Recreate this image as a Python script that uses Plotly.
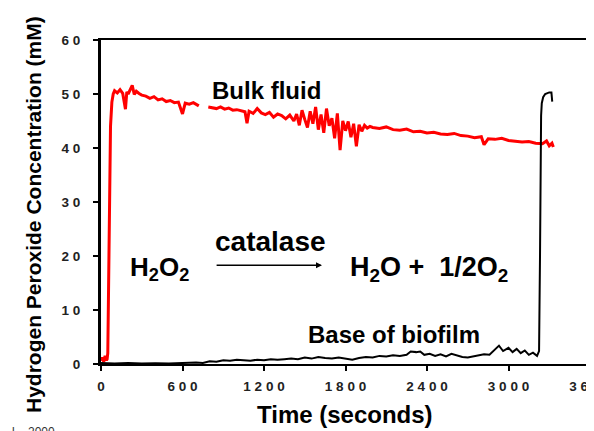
import plotly.graph_objects as go

# ---------------- data ----------------
bulk_t = [0, 10, 20, 30, 40, 45, 50, 55, 60, 65, 70, 80, 90, 100, 120, 140, 160, 180, 190, 200,
          215, 230, 245, 260, 280, 300, 330, 360, 390, 420, 450, 480, 510, 540, 570, 600, 620, 650,
          680, 710, 720, 750, 790, 820, 850, 880, 910, 940, 970, 1000, 1030, 1060, 1075, 1090, 1120,
          1150, 1180, 1210, 1240, 1270, 1300, 1330, 1360, 1390, 1420, 1440, 1460, 1480, 1500, 1520,
          1540, 1560, 1580, 1600, 1620, 1640, 1660, 1680, 1700, 1720, 1740, 1760, 1780, 1800, 1820,
          1840, 1860, 1880, 1900, 1920, 1940, 1960, 1980, 2000, 2050, 2100, 2150, 2200, 2250, 2300,
          2350, 2400, 2450, 2500, 2550, 2600, 2650, 2700, 2750, 2800, 2820, 2850, 2900, 2950, 3000,
          3050, 3100, 3150, 3200, 3250, 3280, 3300, 3320, 3330]
bulk_v = [0.6, 1.2, 0.4, 1.5, 0.7, 0.9, 2, 12, 30, 38, 44, 48.5, 50, 50.6, 50.2, 50.8, 50.1, 47.2, 50.4, 50.0,
          50.9, 51.6, 49.9, 50.5, 50.1, 49.8, 49.6, 49.2, 49.5, 48.9, 49.1, 48.6, 48.8, 48.4, 48.5, 46.3, 48.3, 48.1,
          48.4, 48.0, 47.8, None, 47.6, 47.5, 47.3, 47.6, 47.2, 47.4, 47.0, 47.1, 46.9, 46.7, 44.6, 46.8, 46.4,
          47.3, 46.5, 46.2, 46.6, 45.7, 46.3, 46.0, 45.4, 46.1, 45.0, 46.3, 44.2, 47.0, 45.3, 43.8,
          46.8, 44.5, 47.6, 43.4, 46.2, 42.8, 47.3, 44.1, 45.5, 41.8, 46.4, 39.6, 45.0, 43.2, 44.9,
          42.0, 44.5, 40.3, 44.3, 43.1, 44.2, 43.7, 44.0, 43.8, 43.6, 43.9, 43.4, 43.3, 43.5, 43.0,
          43.1, 42.8, 42.9, 42.6, 42.5, 42.7, 42.3, 42.2, 41.9, 42.1, 40.6, 41.7, 41.6, 41.8, 41.4,
          41.3, 41.1, 41.2, 40.9, 40.8, 41.3, 40.4, 40.9, 40.2]

base_t = [0, 100, 200, 300, 400, 500, 600, 700, 750, 800, 850, 900, 950, 1000, 1050, 1100, 1150, 1200,
          1250, 1300, 1350, 1400, 1450, 1500, 1550, 1600, 1650, 1700, 1750, 1800, 1850, 1900, 1950, 2000,
          2050, 2100, 2150, 2200, 2250, 2280, 2320, 2350, 2380, 2420, 2460, 2500, 2540, 2580, 2620, 2660,
          2700, 2740, 2780, 2820, 2860, 2900, 2930, 2960, 3000, 3030, 3060, 3090, 3120, 3150, 3180, 3210,
          3225, 3232, 3236, 3240, 3245, 3255, 3270, 3300, 3316, 3322]
base_v = [0.2, 0.1, 0.2, 0.1, 0.15, 0.1, 0.2, 0.3, 0.2, 0.5, 0.4, 0.7, 0.6, 0.8, 0.7, 0.6, 0.8, 0.7,
          0.9, 0.8, 0.9, 1.0, 0.9, 1.2, 1.0, 1.3, 1.1, 1.0, 1.2, 1.0, 0.8, 1.1, 1.3, 1.2,
          1.5, 1.4, 1.6, 1.5, 1.7, 2.3, 2.2, 2.3, 1.7, 1.9, 1.5, 1.8, 1.4, 1.9, 1.6, 1.3,
          1.2, 1.4, 1.6, 1.8, 1.7, 2.6, 3.4, 2.4, 3.0, 2.2, 2.8, 2.0, 2.5, 1.7, 2.1, 1.5,
          2.4, 20, 38, 46, 48.3, 49.4, 50.0, 50.3, 50.3, 48.6]

x_tickvals = [0, 600, 1200, 1800, 2400, 3000, 3600]
x_ticktext = ["0", "6 0 0", "1 2 0 0", "1 8 0 0", "2 4 0 0", "3 0 0 0", "3 6 0 0"]
y_tickvals = [0, 10, 20, 30, 40, 50, 60]
y_ticktext = ["0", "1 0", "2 0", "3 0", "4 0", "5 0", "6 0"]

FONT = "Liberation Sans, Arial, sans-serif"

fig = go.Figure()
fig.add_trace(go.Scatter(x=bulk_t, y=bulk_v, mode="lines", connectgaps=False,
                         line=dict(color="#ff0000", width=3), showlegend=False))
fig.add_trace(go.Scatter(x=base_t, y=base_v, mode="lines",
                         line=dict(color="#000000", width=2), showlegend=False))

# page has an 8px body margin; figure sized to fit the 594x431 window exactly.
# plot area on screen spans x 101..590, y 40..364
fig.update_layout(
    width=586, height=423,
    margin=dict(l=93, r=4, t=32, b=67),
    paper_bgcolor="white", plot_bgcolor="white",
    font=dict(family=FONT, color="black"),
    xaxis=dict(range=[0, 3600], tickvals=x_tickvals, ticktext=x_ticktext, automargin=False,
               showgrid=False, zeroline=False, showline=True, linecolor="black", linewidth=2,
               mirror=True, ticks="outside", ticklen=5, tickwidth=2, tickcolor="black",
               tickfont=dict(size=13.5, family=FONT, weight="bold", color="#222"),
               ticklabelstandoff=4, ticklabeloverflow="allow"),
    yaxis=dict(range=[0, 60], tickvals=y_tickvals, ticktext=y_ticktext, automargin=False,
               showgrid=False, zeroline=False, showline=True, linecolor="black", linewidth=3,
               ticks="outside", ticklen=5, tickwidth=2, tickcolor="black",
               tickfont=dict(size=13.5, family=FONT, weight="bold", color="#222"),
               ticklabelstandoff=10),
)

ann = []
# axis titles
ann.append(dict(text="Hydrogen Peroxide Concentration (mM)", xref="paper", yref="paper",
                x=(33 - 101) / 489, y=(364 - 215) / 324, textangle=-90, showarrow=False,
                xanchor="center", yanchor="middle",
                font=dict(size=21, family=FONT, weight="bold", color="black")))
ann.append(dict(text="Time (seconds)", xref="paper", yref="paper",
                x=(344.5 - 101) / 489, y=(364 - 414) / 324, showarrow=False,
                xanchor="center", yanchor="middle",
                font=dict(size=24, family=FONT, weight="bold", color="black")))
# series labels
ann.append(dict(text="Bulk fluid", x=1222, y=50.7, showarrow=False, xanchor="center", yanchor="middle",
                font=dict(size=24, family=FONT, weight="bold", color="black")))
ann.append(dict(text="Base of biofilm", x=2157, y=5.4, showarrow=False, xanchor="center", yanchor="middle",
                font=dict(size=24, family=FONT, weight="bold", color="black")))
# equation
ann.append(dict(text="H<sub>2</sub>O<sub>2</sub>", x=434, y=17.6, showarrow=False,
                xanchor="center", yanchor="middle",
                font=dict(size=26, family=FONT, weight="bold", color="black")))
ann.append(dict(text="catalase", x=1245, y=22.6, showarrow=False, xanchor="center", yanchor="middle",
                font=dict(size=28, family=FONT, weight="bold", color="black")))
ann.append(dict(text="", x=1627, y=18.3, ax=840, ay=18.3, axref="x", ayref="y",
                showarrow=True, arrowhead=2, arrowsize=0.8, arrowwidth=1.5, arrowcolor="black"))
ann.append(dict(text="H<sub>2</sub>O +\u00a0\u00a01/2O<sub>2</sub>", x=2415, y=17.6, showarrow=False,
                xanchor="center", yanchor="middle",
                font=dict(size=27, family=FONT, weight="bold", color="black")))
# cropped citation fragment at bottom-left
ann.append(dict(text="l.,  2000", xref="paper", yref="paper", x=(10 - 101) / 489, y=(364 - 423) / 324,
                showarrow=False, xanchor="left", yanchor="top",
                font=dict(size=12, family=FONT, color="#333")))
fig.update_layout(annotations=ann)

# beige strip at the right edge (cropped page)
fig.add_shape(type="rect", xref="paper", yref="paper",
              x0=(588 - 101) / 489, x1=(594 - 101) / 489, y0=-0.3, y1=1.2,
              fillcolor="#f2ece2", line=dict(width=0), layer="above")

fig.write_html("out.html")
